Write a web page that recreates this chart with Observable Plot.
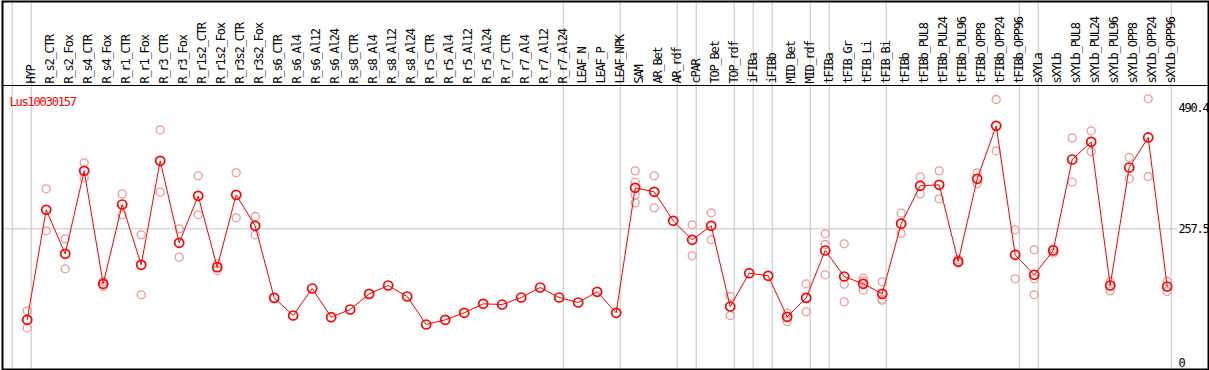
<!DOCTYPE html>
<html>
<head>
<meta charset="utf-8">
<script src="https://cdn.jsdelivr.net/npm/d3@7"></script>
<script src="https://cdn.jsdelivr.net/npm/@observablehq/plot@0.6"></script>
<style>
  html, body { margin: 0; padding: 0; background: #fff; }
  #chart { width: 1209px; height: 370px; }
</style>
</head>
<body>
<div id="chart"></div>
<script>
const geneLabel = "Lus10030157";
const categories = ["HYP","R_s2_CTR","R_s2_Fox","R_s4_CTR","R_s4_Fox","R_r1_CTR","R_r1_Fox","R_r3_CTR","R_r3_Fox","R_r1s2_CTR","R_r1s2_Fox","R_r3s2_CTR","R_r3s2_Fox","R_s6_CTR","R_s6_Al4","R_s6_Al12","R_s6_Al24","R_s8_CTR","R_s8_Al4","R_s8_Al12","R_s8_Al24","R_r5_CTR","R_r5_Al4","R_r5_Al12","R_r5_Al24","R_r7_CTR","R_r7_Al4","R_r7_Al12","R_r7_Al24","LEAF_N","LEAF_P","LEAF_NPK","SAM","AR_Bet","AR_rdf","cPAR","TOP_Bet","TOP_rdf","iFIBa","iFIBb","MID_Bet","MID_rdf","tFIBa","tFIB_Gr","tFIB_Li","tFIB_Bi","tFIBb","tFIBb_PUL8","tFIBb_PUL24","tFIBb_PUL96","tFIBb_OPP8","tFIBb_OPP24","tFIBb_OPP96","sXYLa","sXYLb","sXYLb_PUL8","sXYLb_PUL24","sXYLb_PUL96","sXYLb_OPP8","sXYLb_OPP24","sXYLb_OPP96"];
const means = [82.5,294.1,209.4,369.1,151.7,304.3,188.3,388.4,230.6,321.0,183.7,322.9,263.3,124.7,90.7,142.7,87.5,102.3,132.4,148.5,127.3,73.4,82.4,95.9,113.2,111.9,125.4,144.6,125.4,115.8,136.3,95.9,336.4,328.7,272.9,236.4,263.3,108.1,172.2,167.1,88.2,124.7,215.8,165.8,151.7,132.4,267.5,340.3,342.2,194.6,353.8,455.7,207.5,169.0,215.8,390.9,424.9,148.5,375.5,433.3,146.5];
const repA = [99.8,334.5,238.3,384.5,156.2,324.8,246.0,448.0,257.5,359.5,190.2,365.3,281.2,null,null,null,null,null,null,null,null,null,null,null,null,null,null,null,null,null,null,null,369.1,359.5,null,265.3,288.3,127.3,null,null,95.2,151.7,247.9,228.7,162.5,155.6,287.6,357.6,369.1,198.5,365.3,506.4,255.6,217.1,210.6,432.6,446.1,156.2,394.8,507.7,156.2];
const repB = [67.1,253.7,180.6,355.7,146.5,284.5,130.6,328.0,203.0,284.5,177.3,278.7,246.0,null,null,null,null,null,null,null,null,null,null,null,null,null,null,null,null,null,null,null,347.3,297.9,null,205.6,236.4,90.7,null,null,79.2,97.9,227.4,151.0,157.5,122.1,248.5,324.8,315.3,191.4,344.1,407.6,161.4,161.4,219.0,347.3,406.3,138.2,353.8,358.2,136.9];
const repC = [null,null,null,null,null,null,null,null,null,null,null,null,null,null,null,null,null,null,null,null,null,null,null,null,null,null,null,null,null,null,null,null,322.9,null,null,null,null,null,null,null,null,null,169.0,117.1,139.5,120.2,null,null,null,null,null,null,null,130.6,null,null,null,null,null,null,null];
const repD = [null,null,null,null,null,null,null,null,null,null,null,null,null,null,null,null,null,null,null,null,null,null,null,null,null,null,null,null,null,null,null,null,307.5,null,null,null,null,null,null,null,null,null,null,null,null,null,null,null,null,null,null,null,null,null,null,null,null,null,null,null,null];
const groupStarts = ["HYP","R_s2_CTR","LEAF_N","SAM","cPAR","TOP_Bet","iFIBa","iFIBb","MID_Bet","tFIBa","tFIB_Gr","tFIBb","sXYLa","sXYLb"];
const axisTicks = [0, 257.5, 490.4];

const idx = categories.map((_, i) => i);
const reps = [];
for (const arr of [repA, repB, repC, repD]) {
  arr.forEach((v, i) => { if (v != null) reps.push({i, v}); });
}
const boundaries = groupStarts.map(c => categories.indexOf(c) - 15 / 19).concat([categories.length - 15 / 19]);

const font = "'DejaVu Sans Mono', monospace";
const plot = Plot.plot({
  width: 1209,
  height: 370,
  marginTop: 0, marginRight: 0, marginBottom: 0, marginLeft: 0,
  style: {fontFamily: font, fontSize: "12px", letterSpacing: "-1.2px", background: "#fff"},
  x: {domain: [0, categories.length - 1], range: [26.7, 1166.7], axis: null},
  y: {domain: [0, 490.4], range: [362.16, 107.3], axis: null},
  marks: [
    Plot.ruleX(boundaries, {x: d => d, stroke: "#c4c4c4", strokeWidth: 1}),
    Plot.ruleY([257.5], {stroke: "#c4c4c4", strokeWidth: 1, insetLeft: 1, insetRight: 32}),
    Plot.text(idx, {x: i => i, text: i => categories[i], frameAnchor: "top", dy: 83, dx: -1, rotate: -90, textAnchor: "start", fill: "#000"}),
    Plot.text([geneLabel], {text: d => d, frameAnchor: "top-left", dx: 9, dy: 97, textAnchor: "start", fill: "#ff0000"}),
    Plot.text(axisTicks, {y: d => d, text: d => String(d), frameAnchor: "right", dx: -31, textAnchor: "start", fill: "#000"}),
    Plot.dot(reps, {x: "i", y: "v", r: 4, stroke: "#f09a9a", strokeWidth: 1.3, fill: "none"}),
    Plot.line(idx, {x: i => i, y: i => means[i], stroke: "#ff0000", strokeWidth: 1}),
    Plot.dot(idx, {x: i => i, y: i => means[i], r: 4.5, stroke: "#ff0000", strokeWidth: 1.7, fill: "none"}),
    Plot.frame({stroke: "#000", strokeWidth: 2, insetLeft: 2, insetTop: 1, insetRight: 1, insetBottom: 1})
  ]
});
document.getElementById("chart").appendChild(plot);
d3.select(plot).append("line")
  .attr("x1", 1).attr("x2", 1208).attr("y1", 85.5).attr("y2", 85.5)
  .attr("stroke", "#000").attr("stroke-width", 1.2);
</script>
</body>
</html>
